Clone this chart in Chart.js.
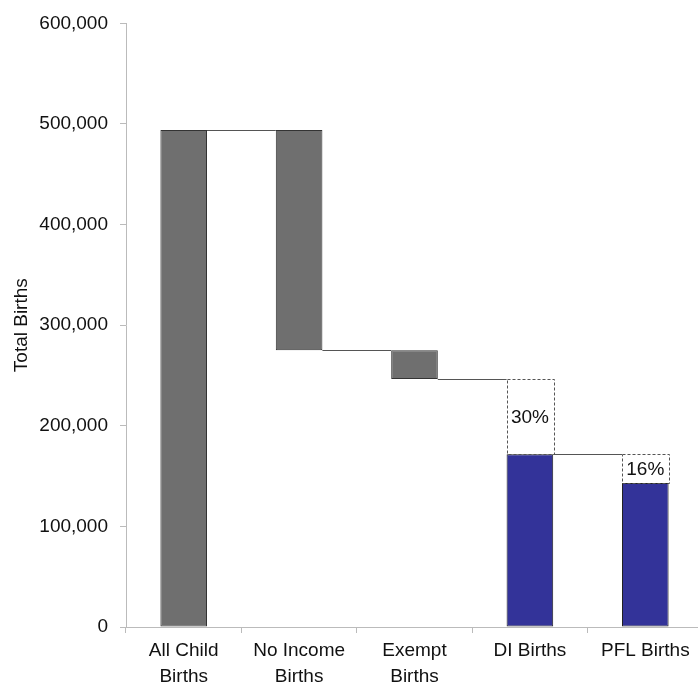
<!DOCTYPE html>
<html>
<head>
<meta charset="utf-8">
<script src="https://cdn.jsdelivr.net/npm/chart.js@4/dist/chart.umd.min.js"></script>
<style>
  html, body { margin: 0; padding: 0; background: #fff; overflow: hidden; }
  #wrap { width: 703px; height: 684px; }
</style>
</head>
<body>
<div id="wrap"><canvas id="births" width="703" height="684"></canvas></div>
<script>
// Waterfall of child births
const categories = [['All Child', 'Births'], ['No Income', 'Births'], ['Exempt', 'Births'], 'DI Births', 'PFL Births'];
const grayLow  = [0, 275000, 246500, null, null];
const grayHigh = [494000, 494000, 275000, null, null];
const blueValues = [null, null, null, 171600, 143200];
const gapLow  = [null, null, null, 171600, 143200];
const gapHigh = [null, null, null, 246500, 171600];
const gapLabels = [null, null, null, '30%', '16%'];
// level of the line joining category i to category i+1
const connectors = [494000, 275000, 246500, 171600];
const yTicks = [0, 100000, 200000, 300000, 400000, 500000, 600000];

const FONT = 'Liberation Sans, Arial, sans-serif';

const grayData = grayLow.map((v, i) => v === null ? null : [v, grayHigh[i]]);
const gapData = gapLow.map((v, i) => v === null ? null : [v, gapHigh[i]]);

const waterfallExtras = {
    id: 'waterfallExtras',
    afterDatasetsDraw(chart) {
        const ctx = chart.ctx;
        const x = chart.scales.x, y = chart.scales.y;
        const barW = chart.getDatasetMeta(0).data[0].width;

        // connectors
        ctx.save();
        ctx.strokeStyle = '#555';
        ctx.lineWidth = 1;
        connectors.forEach((v, i) => {
            const py = Math.round(y.getPixelForValue(v)) + 0.5;
            ctx.beginPath();
            ctx.moveTo(x.getPixelForValue(i) + barW / 2, py);
            ctx.lineTo(x.getPixelForValue(i + 1) - barW / 2, py);
            ctx.stroke();
        });
        ctx.restore();

        // dashed boxes with percentages
        const meta = chart.getDatasetMeta(2);
        meta.data.forEach((bar, i) => {
            if (gapData[i] === null) return;
            const top = Math.min(bar.y, bar.base), bottom = Math.max(bar.y, bar.base);
            const left = bar.x - bar.width / 2;
            ctx.save();
            ctx.setLineDash([3, 2]);
            ctx.strokeStyle = '#555';
            ctx.lineWidth = 1;
            ctx.strokeRect(Math.round(left) + 0.5, Math.round(top) + 0.5, Math.round(bar.width), Math.round(bottom - top));
            ctx.restore();
            ctx.save();
            ctx.fillStyle = '#111';
            ctx.font = '19px ' + FONT;
            ctx.textAlign = 'center';
            ctx.textBaseline = 'middle';
            ctx.fillText(gapLabels[i], bar.x, (top + bottom) / 2 + 1);
            ctx.restore();
        });
    }
};

new Chart(document.getElementById('births'), {
    type: 'bar',
    data: {
        labels: categories,
        datasets: [
            {
                data: grayData,
                backgroundColor: '#6f6f6f',
                borderColor: '#333',
                borderWidth: 1,
                borderSkipped: false,
                grouped: false,
                barPercentage: 0.404,
                categoryPercentage: 1
            },
            {
                data: blueValues,
                backgroundColor: '#333399',
                borderColor: '#222',
                borderWidth: 1,
                borderSkipped: false,
                grouped: false,
                barPercentage: 0.404,
                categoryPercentage: 1
            },
            {
                data: gapData,
                backgroundColor: 'rgba(0,0,0,0)',
                borderWidth: 0,
                grouped: false,
                barPercentage: 0.404,
                categoryPercentage: 1
            }
        ]
    },
    options: {
        responsive: false,
        animation: false,
        layout: { padding: { top: 23, right: 0, bottom: 0, left: 0 } },
        plugins: {
            legend: { display: false },
            tooltip: { enabled: false }
        },
        scales: {
            x: {
                afterFit(scale) { scale.height = 57; },
                border: { color: '#bbb', width: 1 },
                grid: { drawOnChartArea: false, drawTicks: true, tickLength: 6, color: '#bbb', offset: true },
                ticks: {
                    color: '#111',
                    padding: 4,
                    maxRotation: 0,
                    autoSkip: false,
                    font: { family: FONT, size: 19, lineHeight: 1.4 }
                }
            },
            y: {
                min: 0,
                max: 600000,
                afterFit(scale) { scale.width = 126; },
                afterBuildTicks(scale) { scale.ticks = yTicks.map(v => ({ value: v })); },
                border: { color: '#bbb', width: 1 },
                grid: { drawOnChartArea: false, drawTicks: true, tickLength: 6, color: '#bbb' },
                title: {
                    display: true,
                    text: 'Total Births',
                    color: '#111',
                    padding: { top: 10, bottom: 0 },
                    font: { family: FONT, size: 19 }
                },
                ticks: {
                    color: '#111',
                    padding: 12,
                    font: { family: FONT, size: 19 },
                    callback: v => v.toLocaleString('en-US')
                }
            }
        }
    },
    plugins: [waterfallExtras]
});
</script>
</body>
</html>
